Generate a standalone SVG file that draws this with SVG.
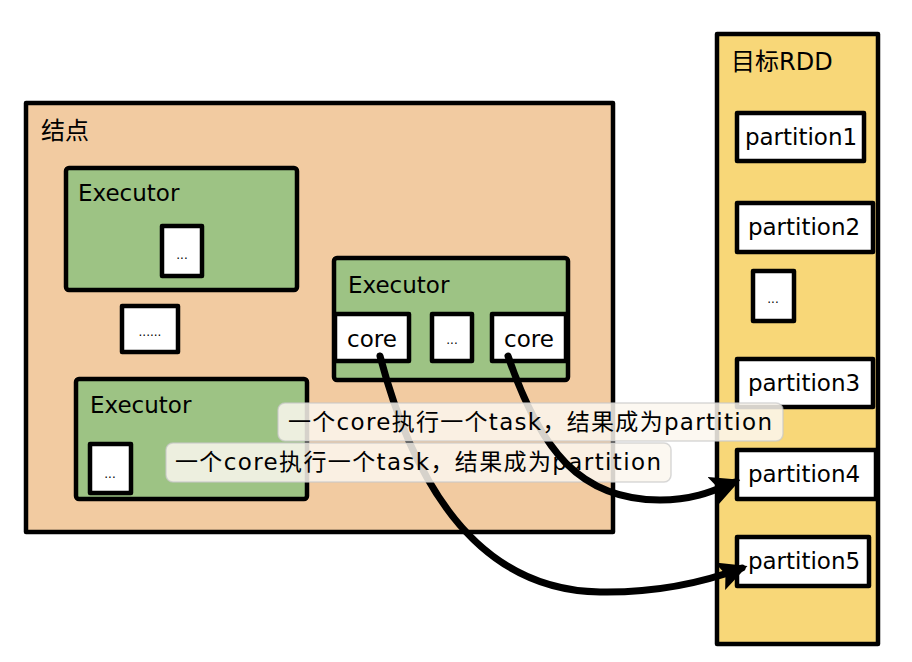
<svg xmlns="http://www.w3.org/2000/svg" width="912" height="662" viewBox="0 0 912 662">
<defs>
<style>
.box{stroke:#000;stroke-width:4.5;stroke-linejoin:round}
.node{fill:#F2CBA1}
.exec{fill:#9DC384}
.rdd{fill:#F8D778}
.w{fill:#fff}
.t{font-family:"DejaVu Sans","Noto Sans CJK SC",sans-serif;fill:#000}
.zh{font-family:"DejaVu Sans","Noto Sans CJK SC",sans-serif;fill:#000}
.dots{font-family:"DejaVu Sans",sans-serif;font-size:12px;fill:#000;text-anchor:middle}
.edge{fill:none;stroke:#000;stroke-width:7;stroke-linecap:round}
.lbl{fill:#FBF7EF;fill-opacity:0.85;stroke:#c8c8c8;stroke-opacity:0.7;stroke-width:1.5}
.lt{font-family:"DejaVu Sans","Noto Sans CJK SC",sans-serif;font-size:23px;fill:#000}
</style>
<marker id="ah" viewBox="0 0 10 10" refX="8" refY="5" markerWidth="4.2" markerHeight="4.2" orient="auto" markerUnits="strokeWidth">
<path d="M0,0 L10,5 L0,10 L2,5 Z" fill="#000"/>
</marker>
</defs>
<rect width="912" height="662" fill="#fff"/>

<g id="node-jiedian">
<rect class="box node" x="26" y="103" width="587" height="429"/>
<text class="zh" x="41" y="139" font-size="24">结点</text>
</g>

<g id="executor1">
<rect class="box exec" x="66" y="168" width="231" height="122" rx="3"/>
<text class="t" x="78" y="201" font-size="23">Executor</text>
<g id="e1-dots"><rect class="box w" x="162" y="226" width="40" height="50"/><text class="dots" x="182" y="259">...</text></g>
</g>

<g id="dots-mid">
<rect class="box w" x="122" y="306" width="56" height="46"/>
<text class="dots" x="150" y="336">......</text>
</g>

<g id="executor2">
<rect class="box exec" x="334" y="258" width="234" height="122" rx="3"/>
<text class="t" x="348" y="293" font-size="23">Executor</text>
<g id="core1"><rect class="box w" x="335" y="314" width="74" height="47"/><text class="t" x="372" y="347" font-size="23" text-anchor="middle">core</text></g>
<g id="e2-dots"><rect class="box w" x="432" y="314" width="40" height="47"/><text class="dots" x="452" y="344">...</text></g>
<g id="core2"><rect class="box w" x="492" y="314" width="74" height="47"/><text class="t" x="529" y="347" font-size="23" text-anchor="middle">core</text></g>
</g>

<g id="executor3">
<rect class="box exec" x="76" y="379" width="231" height="120" rx="3"/>
<text class="t" x="90" y="413" font-size="23">Executor</text>
<g id="e3-dots"><rect class="box w" x="90" y="444" width="41" height="49"/><text class="dots" x="110" y="478">...</text></g>
</g>

<g id="rdd">
<rect class="box rdd" x="717" y="34" width="161" height="610"/>
<text class="zh" x="731" y="70" font-size="24">目标RDD</text>
<g id="p1"><rect class="box w" x="737" y="113" width="127" height="48"/><text class="t" x="801" y="145" font-size="23" text-anchor="middle">partition1</text></g>
<g id="p2"><rect class="box w" x="737" y="203" width="136" height="49"/><text class="t" x="804" y="235" font-size="23" text-anchor="middle">partition2</text></g>
<g id="rdd-dots"><rect class="box w" x="753" y="271" width="41" height="50"/><text class="dots" x="773" y="303">...</text></g>
<g id="p3"><rect class="box w" x="737" y="359" width="136" height="48"/><text class="t" x="804" y="391" font-size="23" text-anchor="middle">partition3</text></g>
<g id="p4"><rect class="box w" x="737" y="450" width="139" height="49"/><text class="t" x="804" y="482" font-size="23" text-anchor="middle">partition4</text></g>
<g id="p5"><rect class="box w" x="737" y="537" width="132" height="49"/><text class="t" x="804" y="569" font-size="23" text-anchor="middle">partition5</text></g>
</g>

<g id="connectors">
<g id="edge1">
<path class="edge" d="M380,356 C410,470 470,590 600,592 C660,593 710,580 742,568" marker-end="url(#ah)"/>
<rect class="lbl" x="166" y="443" width="505" height="39" rx="7"/>
<text class="lt" x="175" y="470" textLength="486">一个core执行一个task，结果成为partition</text>
</g>
<g id="edge2">
<path class="edge" d="M508,356 C540,450 580,500 660,500 C695,500 715,490 735,482" marker-end="url(#ah)"/>
<rect class="lbl" x="278" y="403" width="505" height="38" rx="7"/>
<text class="lt" x="288" y="430" textLength="484">一个core执行一个task，结果成为partition</text>
</g>
</g>
</svg>
